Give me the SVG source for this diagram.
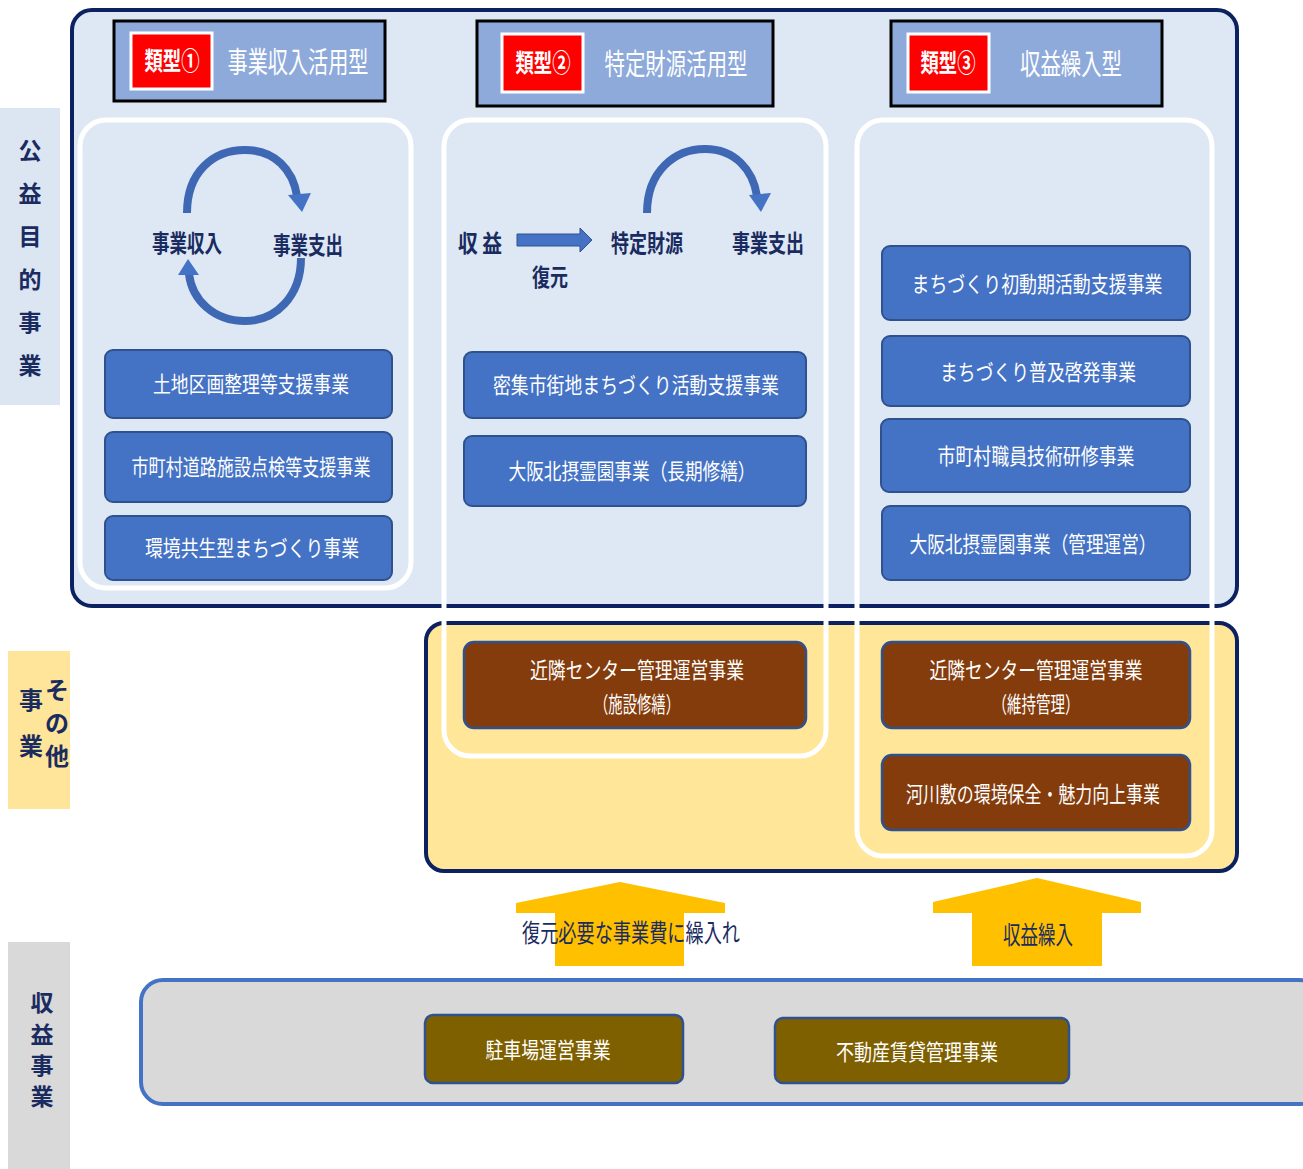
<svg xmlns="http://www.w3.org/2000/svg" width="1303" height="1169" viewBox="0 0 1303 1169">
<defs>
<style>
text{font-family:"Noto Sans CJK JP","Noto Sans",sans-serif;}
.side{font-size:23px;font-weight:bold;fill:#1a2b5f;text-anchor:middle;}
.side2{font-size:24px;font-weight:bold;fill:#1a2b5f;text-anchor:middle;}
.hdr{fill:#8eaadb;stroke:#000;stroke-width:3;}
.tag{fill:#ff0000;stroke:#fff;stroke-width:3;}
.tagt{font-size:25px;font-weight:bold;fill:#fff;text-anchor:middle;}
.hdrt{font-size:29px;fill:#fff;text-anchor:middle;}
.col{fill:none;stroke:#fff;stroke-width:5;}
.blue{fill:#4472c4;stroke:#2f528f;stroke-width:2;}
.brown{fill:#843c0c;stroke:#2f528f;stroke-width:2.5;}
.olive{fill:#7f6000;stroke:#2f528f;stroke-width:2.5;}
.bt{font-size:22px;fill:#fff;text-anchor:middle;}
.lbl{font-size:24px;font-weight:bold;fill:#1a2b5f;text-anchor:middle;}
.arc{fill:none;stroke:#3f68b4;stroke-width:8;}
.ahd{fill:#4472c4;}
.yel{fill:#ffc000;}
.yt{font-family:"Liberation Serif","Noto Sans CJK JP",serif;font-size:25px;fill:#1a2b5f;text-anchor:middle;}
</style>
</defs>

<!-- side labels -->
<g id="label-koueki">
<rect x="0" y="108" width="60" height="297" fill="#dce6f2"/>
<text class="side" x="30" y="159">公</text>
<text class="side" x="30" y="202">益</text>
<text class="side" x="30" y="245">目</text>
<text class="side" x="30" y="288">的</text>
<text class="side" x="30" y="331">事</text>
<text class="side" x="30" y="374">業</text>
</g>
<g id="label-sonota">
<rect x="8" y="651" width="62" height="158" fill="#fee599"/>
<text class="side2" x="57" y="699">そ</text>
<text class="side2" x="57" y="732">の</text>
<text class="side2" x="57" y="765">他</text>
<text class="side2" x="31" y="709">事</text>
<text class="side2" x="31" y="755">業</text>
</g>
<g id="label-shueki">
<rect x="8" y="942" width="62" height="227" fill="#d9d9d9"/>
<text class="side" x="42" y="1011">収</text>
<text class="side" x="42" y="1043">益</text>
<text class="side" x="42" y="1074">事</text>
<text class="side" x="42" y="1105">業</text>
</g>

<!-- containers -->
<g id="area-koueki">
<rect x="72" y="10" width="1165" height="596" rx="20" fill="#dde8f4" stroke="#0b2160" stroke-width="4"/>
</g>
<g id="area-sonota">
<rect x="426" y="623" width="811" height="248" rx="18" fill="#ffe699" stroke="#0b2160" stroke-width="4"/>
</g>
<g id="area-shueki">
<rect x="141" y="980" width="1180" height="124" rx="22" fill="#d9d9d9" stroke="#4472c4" stroke-width="4"/>
</g>

<!-- column outlines -->
<g id="columns">
<rect class="col" x="80" y="120" width="331" height="468" rx="26"/>
<rect class="col" x="444" y="120" width="382" height="636" rx="26"/>
<rect class="col" x="857" y="120" width="355" height="736" rx="26"/>
</g>

<!-- headers -->
<g id="type1">
<rect class="hdr" x="114" y="21" width="271" height="80"/>
<rect class="tag" x="131" y="33" width="81" height="56"/>
<text class="tagt" x="172" y="70" textLength="55" lengthAdjust="spacingAndGlyphs">類型①</text>
<text class="hdrt" x="298" y="73" textLength="141" lengthAdjust="spacingAndGlyphs">事業収入活用型</text>
</g>
<g id="type2">
<rect class="hdr" x="477" y="21" width="296" height="85"/>
<rect class="tag" x="502" y="34" width="81" height="58"/>
<text class="tagt" x="543" y="72" textLength="55" lengthAdjust="spacingAndGlyphs">類型②</text>
<text class="hdrt" x="676" y="75" textLength="143" lengthAdjust="spacingAndGlyphs">特定財源活用型</text>
</g>
<g id="type3">
<rect class="hdr" x="891" y="21" width="271" height="85"/>
<rect class="tag" x="908" y="34" width="81" height="58"/>
<text class="tagt" x="948" y="72" textLength="55" lengthAdjust="spacingAndGlyphs">類型③</text>
<text class="hdrt" x="1071" y="75" textLength="102" lengthAdjust="spacingAndGlyphs">収益繰入型</text>
</g>

<!-- cycle diagram col1 -->
<g id="cycle1">
<path class="arc" d="M187,213 C187,172 213,150 245,150 C275,150 293,170 297,196"/>
<polygon class="ahd" points="288,195 311,193 302,212"/>
<path class="arc" d="M301,258 C301,296 276,321 245,321 C214,321 192,300 189,274"/>
<polygon class="ahd" points="178,275 199,275 188,259"/>
<text class="lbl" x="187" y="252" textLength="70" lengthAdjust="spacingAndGlyphs">事業収入</text>
<text class="lbl" x="308" y="254" textLength="70" lengthAdjust="spacingAndGlyphs">事業支出</text>
</g>

<!-- flow col2 -->
<g id="flow2">
<text class="lbl" x="480" y="252" textLength="44" lengthAdjust="spacingAndGlyphs">収 益</text>
<polygon points="517,234 580,234 580,228 592,240 580,252 580,246 517,246" fill="#4472c4" stroke="#2f528f" stroke-width="1"/>
<text class="lbl" x="550" y="286" textLength="36" lengthAdjust="spacingAndGlyphs">復元</text>
<text class="lbl" x="647" y="252" textLength="72" lengthAdjust="spacingAndGlyphs">特定財源</text>
<text class="lbl" x="768" y="252" textLength="72" lengthAdjust="spacingAndGlyphs">事業支出</text>
<path class="arc" d="M647,213 C647,171 675,149 705,149 C735,149 753,170 757,196"/>
<polygon class="ahd" points="749,195 771,193 761,212"/>
</g>

<!-- blue boxes col1 -->
<g id="n-tochi"><rect class="blue" x="105" y="350" width="287" height="68" rx="8"/><text class="bt" x="251" y="392" textLength="196" lengthAdjust="spacingAndGlyphs">土地区画整理等支援事業</text></g>
<g id="n-doro"><rect class="blue" x="105" y="432" width="287" height="70" rx="8"/><text class="bt" x="251" y="475" textLength="239" lengthAdjust="spacingAndGlyphs">市町村道路施設点検等支援事業</text></g>
<g id="n-kankyo"><rect class="blue" x="105" y="516" width="287" height="64" rx="8"/><text class="bt" x="252" y="556" textLength="214" lengthAdjust="spacingAndGlyphs">環境共生型まちづくり事業</text></g>

<!-- blue boxes col2 -->
<g id="n-misshu"><rect class="blue" x="464" y="352" width="342" height="66" rx="8"/><text class="bt" x="636" y="393" textLength="286" lengthAdjust="spacingAndGlyphs">密集市街地まちづくり活動支援事業</text></g>
<g id="n-reien-long"><rect class="blue" x="464" y="436" width="342" height="70" rx="8"/><text class="bt" x="632" y="479" textLength="247" lengthAdjust="spacingAndGlyphs">大阪北摂霊園事業（長期修繕）</text></g>

<!-- blue boxes col3 -->
<g id="n-shodoki"><rect class="blue" x="882" y="246" width="308" height="74" rx="8"/><text class="bt" x="1037" y="292" textLength="251" lengthAdjust="spacingAndGlyphs">まちづくり初動期活動支援事業</text></g>
<g id="n-fukyu"><rect class="blue" x="882" y="336" width="308" height="70" rx="8"/><text class="bt" x="1038" y="380" textLength="196" lengthAdjust="spacingAndGlyphs">まちづくり普及啓発事業</text></g>
<g id="n-kenshu"><rect class="blue" x="881" y="419" width="309" height="73" rx="8"/><text class="bt" x="1036" y="464" textLength="197" lengthAdjust="spacingAndGlyphs">市町村職員技術研修事業</text></g>
<g id="n-reien-kanri"><rect class="blue" x="882" y="506" width="308" height="74" rx="8"/><text class="bt" x="1033" y="552" textLength="247" lengthAdjust="spacingAndGlyphs">大阪北摂霊園事業（管理運営）</text></g>

<!-- brown boxes -->
<g id="n-kinrin-shuzen"><rect class="brown" x="464" y="642" width="342" height="86" rx="10"/><text class="bt" x="637" y="678" textLength="214" lengthAdjust="spacingAndGlyphs">近隣センター管理運営事業</text><text class="bt" x="637" y="712" textLength="86" lengthAdjust="spacingAndGlyphs">（施設修繕）</text></g>
<g id="n-kinrin-iji"><rect class="brown" x="882" y="642" width="308" height="86" rx="10"/><text class="bt" x="1036" y="678" textLength="213" lengthAdjust="spacingAndGlyphs">近隣センター管理運営事業</text><text class="bt" x="1036" y="712" textLength="87" lengthAdjust="spacingAndGlyphs">（維持管理）</text></g>
<g id="n-kasenjiki"><rect class="brown" x="882" y="755" width="308" height="75" rx="10"/><text class="bt" x="1033" y="802" textLength="254" lengthAdjust="spacingAndGlyphs">河川敷の環境保全・魅力向上事業</text></g>

<!-- olive boxes -->
<g id="n-parking"><rect class="olive" x="425" y="1015" width="258" height="68" rx="8"/><text class="bt" x="548" y="1058" textLength="125" lengthAdjust="spacingAndGlyphs">駐車場運営事業</text></g>
<g id="n-fudosan"><rect class="olive" x="775" y="1018" width="294" height="65" rx="8"/><text class="bt" x="917" y="1060" textLength="162" lengthAdjust="spacingAndGlyphs">不動産賃貸管理事業</text></g>

<!-- connectors: up arrows -->
<g id="connectors">
<polygon class="yel" points="555,966 555,913 516,913 516,903 620,882 725,903 725,913 684,913 684,966"/>
<polygon class="yel" points="972,966 972,913 933,913 933,902 1037,878 1141,902 1141,913 1102,913 1102,966"/>
<text class="yt" x="631" y="942" textLength="218" lengthAdjust="spacingAndGlyphs">復元必要な事業費に繰入れ</text>
<text class="yt" x="1038" y="944" textLength="70" lengthAdjust="spacingAndGlyphs">収益繰入</text>
</g>
</svg>
